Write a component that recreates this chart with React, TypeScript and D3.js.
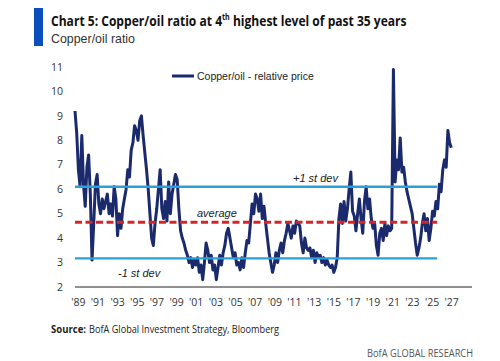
import React, { useEffect, useRef } from "react";
import * as d3 from "d3";

// copper/oil relative price, six readings a year starting Jan 1989
const startYear = 1989;
const perYear = 6;

const ratio89to98 = [
  9.2, 8.3, 6.8, 6.1, 8.2, 6.2,
  5.3, 6.9, 7.4, 5.8, 3.1, 4.6,
  6.2, 6.6, 5.4, 5.0, 5.6, 5.2,
  5.5, 5.8, 5.0, 5.4, 4.9, 6.1,
  5.6, 4.1, 5.0, 4.4, 5.2, 5.6,
  6.0, 6.8, 6.5, 7.6, 7.9, 8.6,
  8.4, 8.0, 8.8, 9.0, 8.2, 7.5,
  6.8, 6.0, 5.0, 4.0, 3.7, 4.6,
  5.2, 6.0, 6.8, 5.2, 4.8, 5.5,
  4.7, 6.3, 5.0, 5.8, 6.2, 6.6,
];
const ratio99to08 = [
  6.4, 5.2, 4.3, 4.0, 3.8, 3.5,
  3.3, 3.0, 3.2, 2.8, 3.1, 2.9,
  3.2, 2.6, 2.9, 2.3, 3.0, 3.8,
  3.5, 3.0, 3.3, 2.7, 2.9, 2.3,
  2.8, 3.3, 2.9, 3.4, 3.7, 4.2,
  4.4, 4.0, 3.6, 3.2, 3.4, 2.9,
  3.0, 2.7, 3.2, 2.8, 3.4, 3.9,
  3.8, 4.6, 5.4, 5.0, 5.8, 5.6,
  5.1, 5.8, 4.8, 5.3, 4.6, 4.0,
  3.4, 3.0, 2.6, 2.9, 3.4, 3.0,
];
const ratio09to18 = [
  3.5, 3.8, 3.4, 3.9, 4.2, 4.6,
  4.3, 4.0, 4.5, 4.2, 4.7, 4.6,
  4.5, 3.8, 3.4, 4.0, 3.6, 3.5,
  3.6, 3.2, 3.5, 3.0, 3.4, 3.2,
  3.3, 3.0, 3.2, 2.9, 3.1, 2.9,
  2.8, 2.9, 2.6, 2.8, 3.2, 4.8,
  5.4, 4.6, 5.5, 4.7, 5.2, 6.0,
  6.7, 5.1, 4.9, 4.3, 5.0, 5.6,
  4.8, 4.2, 5.5, 6.1, 5.2, 5.6,
  4.8, 4.4, 4.6, 3.7, 3.3, 4.2,
];
const ratio19to25 = [
  4.4, 3.9, 4.6, 4.1, 4.5, 4.3,
  4.4, 10.9, 6.3, 7.2, 6.8, 8.1,
  6.7, 6.9, 6.3, 5.9, 5.6, 5.3,
  5.0, 4.4, 3.8, 3.3, 3.6, 4.0,
  4.6, 5.0, 4.3, 4.8, 3.9, 4.4,
  5.1, 4.9, 5.5, 5.2, 6.2, 5.9,
  6.8, 7.2, 6.9, 8.4, 7.9, 7.7,
];

const upperDev = 6.1;
const average = 4.65;
const lowerDev = 3.17;
const bandEndYear = 2024.45;

const yTicks = [2, 3, 4, 5, 6, 7, 8, 9, 10, 11];
const xLabels = ["'89", "'91", "'93", "'95", "'97", "'99", "'01", "'03", "'05", "'07",
  "'09", "'11", "'13", "'15", "'17", "'19", "'21", "'23", "'25", "'27"];

const font = "'Open Sans', 'Liberation Sans', sans-serif";
const arial = "'Liberation Sans', Arial, sans-serif";
const navy = "#1a2a6c";
const lightBlue = "#2b9fd8";

export default function App() {
  const ref = useRef<SVGSVGElement>(null);

  useEffect(() => {
    const svg = d3.select(ref.current);
    svg.selectAll("*").remove();

    const data = [...ratio89to98, ...ratio99to08, ...ratio09to18, ...ratio19to25].map((v, i) => ({
      t: startYear + i / perYear,
      v: v,
    }));

    const x = d3.scaleLinear().domain([1989, 2026]).range([75, 453]);
    const y = d3.scaleLinear().domain([2, 11]).range([287, 67]);
    const xLab = d3.scalePoint().domain(xLabels).range([78.3, 451.7]);

    svg.append("rect").attr("width", 500).attr("height", 361).attr("fill", "#fff");

    // header
    svg.append("rect").attr("x", 34).attr("y", 8).attr("width", 9).attr("height", 38).attr("fill", "#0b4fbd");

    // title is set in a condensed face in the original, so squeeze it horizontally
    const title = svg.append("text")
      .attr("font-family", font).attr("font-weight", "bold").attr("font-size", 14.5)
      .attr("fill", "#111");
    title.append("tspan").text("Chart 5: Copper/oil ratio at 4");
    title.append("tspan").attr("font-size", 8.5).attr("dy", -6).text("th");
    title.append("tspan").attr("dy", 6).text(" highest level of past 35 years");
    const titleW = (title.node() as SVGTextElement).getComputedTextLength() || 470;
    title.attr("transform", `translate(51, 25.5) scale(${356 / titleW}, 1)`);

    svg.append("text")
      .attr("x", 51).attr("y", 43)
      .attr("font-family", arial).attr("font-size", 13)
      .attr("fill", "#333")
      .attr("textLength", 84).attr("lengthAdjust", "spacingAndGlyphs")
      .text("Copper/oil ratio");

    // y ticks
    svg.append("g")
      .selectAll("text")
      .data(yTicks)
      .join("text")
      .attr("x", 63)
      .attr("y", (d) => y(d))
      .attr("dy", "0.35em")
      .attr("text-anchor", "end")
      .attr("font-family", font).attr("font-size", 10.5)
      .attr("fill", "#333")
      .text((d) => d);

    // x axis
    svg.append("line")
      .attr("x1", 75).attr("x2", 472)
      .attr("y1", y(2)).attr("y2", y(2))
      .attr("stroke", "#222").attr("stroke-width", 1.2);

    svg.append("g")
      .selectAll("text")
      .data(xLabels)
      .join("text")
      .attr("x", (d) => xLab(d) as number)
      .attr("y", 302)
      .attr("dy", "0.35em")
      .attr("text-anchor", "middle")
      .attr("font-family", font).attr("font-size", 10.5)
      .attr("fill", "#333")
      .text((d) => d);

    // series
    const line = d3.line<{ t: number; v: number }>()
      .x((d) => x(d.t))
      .y((d) => y(d.v));

    svg.append("path")
      .datum(data)
      .attr("d", line)
      .attr("fill", "none")
      .attr("stroke", navy)
      .attr("stroke-width", 3)
      .attr("stroke-linejoin", "round");

    // bands
    const bands = [
      { v: upperDev, color: lightBlue, dash: null },
      { v: lowerDev, color: lightBlue, dash: null },
      { v: average, color: "#d3262b", dash: "7,3.5" },
    ];
    svg.append("g")
      .selectAll("line")
      .data(bands)
      .join("line")
      .attr("x1", x(1989)).attr("x2", x(bandEndYear))
      .attr("y1", (d) => y(d.v)).attr("y2", (d) => y(d.v))
      .attr("stroke", (d) => d.color)
      .attr("stroke-width", (d) => (d.dash ? 3 : 2.4))
      .attr("stroke-dasharray", (d) => d.dash);

    const notes = [
      { text: "+1 st dev", x: 293, y: 178 },
      { text: "average", x: 197, y: 213 },
      { text: "-1 st dev", x: 118, y: 273 },
    ];
    svg.append("g")
      .selectAll("text")
      .data(notes)
      .join("text")
      .attr("x", (d) => d.x).attr("y", (d) => d.y)
      .attr("dy", "0.35em")
      .attr("font-family", arial)
      .attr("font-style", "italic").attr("font-size", 11)
      .attr("fill", "#222")
      .text((d) => d.text);

    // legend
    svg.append("line")
      .attr("x1", 172).attr("x2", 194).attr("y1", 76).attr("y2", 76)
      .attr("stroke", navy).attr("stroke-width", 3);
    svg.append("text")
      .attr("x", 197).attr("y", 76).attr("dy", "0.35em")
      .attr("font-family", arial).attr("font-size", 10.5)
      .attr("fill", "#222")
      .text("Copper/oil - relative price");

    // footer
    svg.append("text")
      .attr("x", 51).attr("y", 329).attr("dy", "0.35em")
      .attr("font-family", font).attr("font-size", 11).attr("font-weight", "bold")
      .attr("fill", "#222")
      .attr("textLength", 35).attr("lengthAdjust", "spacingAndGlyphs")
      .text("Source:");
    svg.append("text")
      .attr("x", 89).attr("y", 329).attr("dy", "0.35em")
      .attr("font-family", font).attr("font-size", 11)
      .attr("fill", "#222")
      .attr("textLength", 190).attr("lengthAdjust", "spacingAndGlyphs")
      .text("BofA Global Investment Strategy, Bloomberg");

    svg.append("text")
      .attr("x", 473).attr("y", 353).attr("dy", "0.35em")
      .attr("text-anchor", "end")
      .attr("font-family", font).attr("font-size", 11)
      .attr("fill", "#555")
      .attr("textLength", 106).attr("lengthAdjust", "spacingAndGlyphs")
      .text("BofA GLOBAL RESEARCH");
  }, []);

  return (
    <svg
      ref={ref}
      width={500}
      height={361}
      style={{ position: "absolute", left: 0, top: 0 }}
    ></svg>
  );
}
